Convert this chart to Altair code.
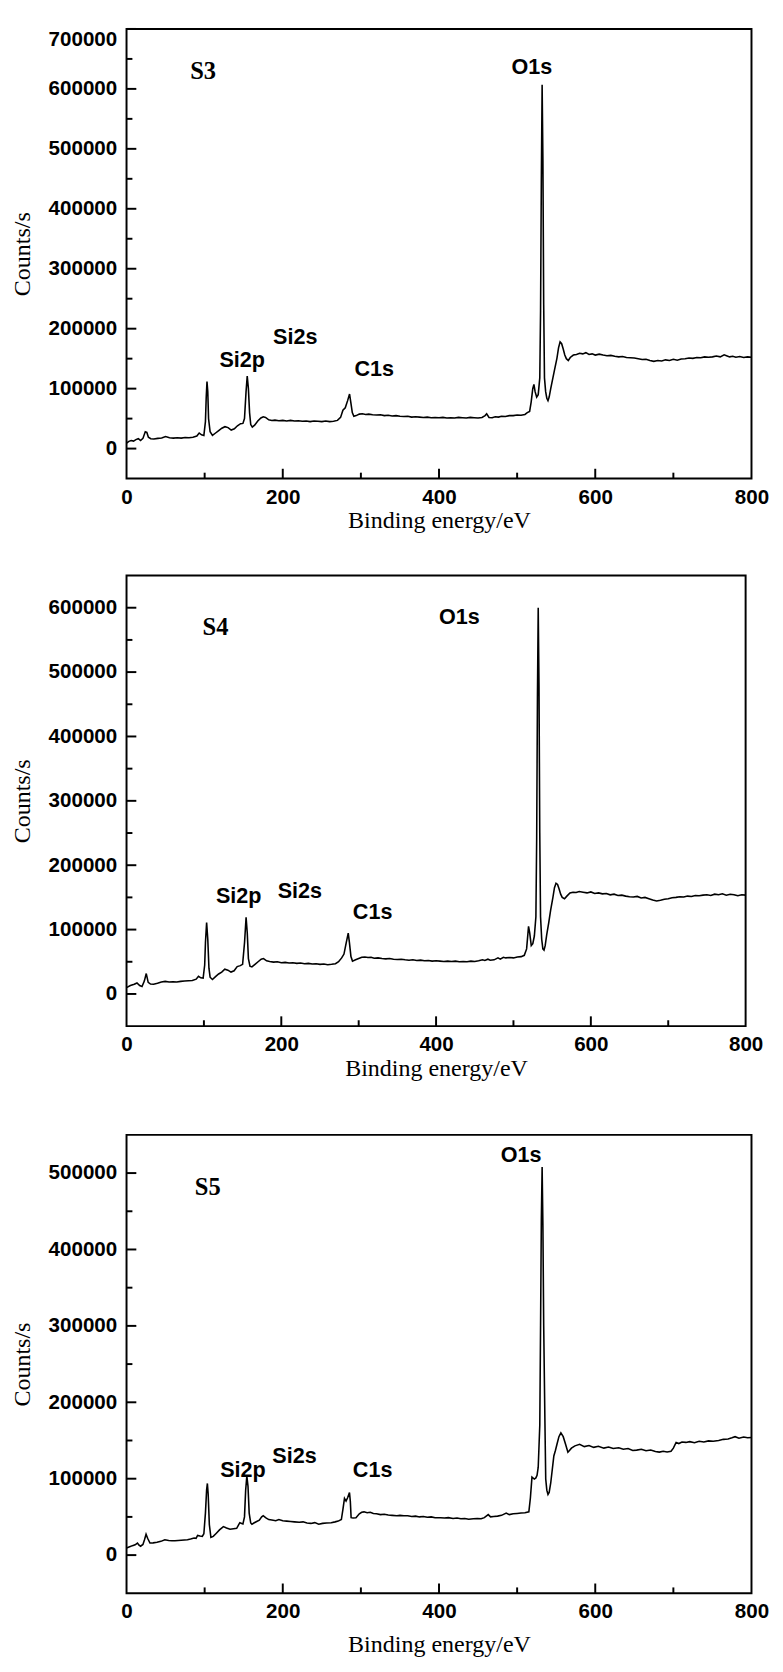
import altair as alt
import pandas as pd

SANS = "Liberation Sans"
SERIF = "Liberation Serif"

# ---------------- data (energy eV, counts/s) ----------------
S3_spectrum = [
    (0, 9000), (3, 12000), (6, 13500), (9, 12500), (12, 15000), (15, 16500), (18, 13500), (21, 17000),
    (24, 28000), (26, 27000), (28, 19000), (31, 16500), (35, 16000), (40, 17000), (45, 17500), (50, 20000),
    (55, 18000), (60, 17500), (65, 18000), (70, 17500), (75, 18500), (80, 18000), (85, 19000), (90, 21000),
    (93, 26000), (96, 23000), (99, 22000), (101, 45000), (102, 85000), (103, 112000), (104, 95000),
    (105, 50000), (107, 28000), (110, 22000), (114, 26000), (118, 30000), (122, 34000), (126, 36500),
    (130, 35000), (134, 31000), (138, 33000), (142, 38000), (146, 41500), (149, 42000), (151, 50000),
    (153, 95000), (154.5, 121000), (156, 100000), (157.5, 60000), (159, 40000), (161, 36000), (164, 39000),
    (168, 46000), (172, 51000), (175, 53000), (178, 52000), (182, 48000), (186, 47000), (190, 47500),
    (195, 46500), (200, 47000), (205, 46000), (210, 47000), (215, 46000), (220, 46500), (225, 45500),
    (230, 46000), (235, 45000), (240, 46000), (245, 45500), (250, 45000), (255, 46000), (260, 45000),
    (265, 45500), (270, 47000), (274, 52000), (277, 64000), (280, 68000), (283, 80000), (285.5, 91000),
    (287, 78000), (289, 60000), (291, 54000), (294, 55000), (298, 57500), (302, 58000), (306, 57000),
    (310, 57500), (315, 56500), (320, 56000), (325, 56500), (330, 55000), (335, 55500), (340, 54500),
    (345, 55000), (350, 54000), (355, 53500), (360, 54000), (365, 52500), (370, 53000), (375, 52500),
    (380, 52000), (385, 52500), (390, 51500), (395, 52000), (400, 51500), (405, 52000), (410, 51000),
    (415, 51500), (420, 51000), (425, 52000), (430, 51500), (435, 51000), (440, 52000), (445, 51500),
    (450, 51000), (455, 52000), (459, 55000), (461, 58000), (464, 52000), (468, 51500), (472, 53000),
    (476, 52500), (480, 54000), (485, 53500), (490, 55000), (495, 55000), (500, 56000), (505, 55500),
    (510, 57000), (513, 60000), (516, 62000), (518, 78000), (520, 100000), (521.5, 107000), (523, 95000),
    (525, 86000), (527, 90000), (529, 118000), (530, 230000), (531, 450000), (532, 607000), (533, 480000),
    (534, 240000), (535, 118000), (536.5, 95000), (538, 84000), (539.5, 80000), (541, 86000), (543, 100000),
    (545, 113000), (548, 132000), (551, 151000), (553, 168000), (555, 178000), (557, 175000), (559, 166000),
    (561, 156000), (563, 150000), (565.5, 147000), (568, 152000), (572, 156000), (576, 157000), (580, 159000),
    (584, 158000), (588, 160000), (592, 157000), (596, 158000), (600, 156000), (605, 157500), (610, 156000),
    (615, 155000), (620, 155500), (625, 154000), (630, 153000), (635, 153500), (640, 152000), (645, 151500),
    (650, 151000), (655, 150000), (660, 148500), (665, 149000), (670, 147000), (675, 145500), (680, 147000),
    (685, 146000), (690, 148000), (695, 147000), (700, 149000), (705, 147500), (710, 149500), (715, 150000),
    (720, 151000), (725, 150500), (730, 152000), (735, 151500), (740, 153000), (745, 152500), (750, 153000),
    (755, 154500), (760, 153000), (765, 156500), (768, 155000), (772, 153000), (776, 154000), (780, 152500),
    (785, 153500), (790, 152000), (795, 153000), (800, 152500),
]

S4_spectrum = [
    (0, 9800), (5, 13000), (10, 15000), (13.5, 17000), (17, 13000), (20, 11500), (23, 20000), (25.5, 31700),
    (28, 18000), (31, 15300), (35, 15000), (40, 16500), (45, 18500), (50, 19500), (55, 18500), (60, 19000),
    (65, 18500), (70, 19500), (75, 20000), (80, 20500), (85, 21000), (90, 23000), (93, 27500), (96, 25000),
    (99, 24500), (101, 45000), (102, 80000), (103.5, 111000), (105, 85000), (106.5, 40000), (108, 26000),
    (111, 22500), (115, 27000), (119, 31000), (123, 34000), (127, 38500), (131, 37000), (135, 34000),
    (139, 36000), (143, 42500), (147, 44000), (150, 46000), (152.5, 80000), (154.5, 119000), (156, 95000),
    (157.5, 55000), (159.5, 43000), (162, 42000), (166, 46000), (170, 50000), (174, 54000), (177, 55000),
    (181, 51500), (185, 50500), (190, 49500), (195, 50000), (200, 48500), (205, 49000), (210, 48000),
    (215, 48500), (220, 47500), (225, 48000), (230, 47000), (235, 47500), (240, 46500), (245, 47000),
    (250, 46000), (255, 46500), (260, 45500), (265, 46000), (270, 47000), (274, 50000), (278, 56000),
    (281, 62000), (284, 80000), (286.5, 94500), (288, 80000), (290, 58000), (292, 51000), (296, 53000),
    (300, 55000), (304, 57000), (308, 57500), (312, 56500), (316, 57000), (320, 55500), (325, 56000),
    (330, 55000), (335, 54500), (340, 55000), (345, 54000), (350, 53500), (355, 54000), (360, 53000),
    (365, 52500), (370, 53000), (375, 52000), (380, 52500), (385, 51500), (390, 52000), (395, 51000),
    (400, 51500), (405, 51000), (410, 50500), (415, 51000), (420, 50500), (425, 51000), (430, 50000),
    (435, 50500), (440, 50000), (445, 51000), (450, 50500), (455, 51500), (460, 53000), (463, 52000),
    (467, 54000), (470, 52500), (475, 53000), (480, 56000), (483, 54000), (487, 57000), (490, 56000),
    (495, 56500), (500, 56000), (505, 57500), (510, 58000), (514, 60000), (517, 70000), (519.5, 105000),
    (521, 95000), (523, 75000), (525, 78000), (527, 90000), (529, 120000), (530, 240000), (531, 460000),
    (532, 600000), (533, 480000), (534, 250000), (535, 120000), (536.5, 85000), (538, 70000), (539.5, 68000),
    (541, 75000), (543, 92000), (545.5, 110000), (548, 130000), (551, 150000), (553, 165000), (555, 172000),
    (557, 170000), (559, 163000), (561, 155000), (563, 150000), (566, 148000), (569, 152000), (573, 157000),
    (577, 158000), (581, 157500), (585, 159000), (590, 158000), (595, 157000), (600, 158500), (605, 156000),
    (610, 157000), (615, 155500), (620, 156000), (625, 154000), (630, 155000), (635, 153000), (640, 153500),
    (645, 152000), (650, 151000), (655, 150500), (660, 151500), (665, 149000), (670, 150000), (675, 148000),
    (680, 146000), (685, 144500), (690, 145500), (695, 147000), (700, 148000), (705, 149500), (710, 150000),
    (715, 151000), (720, 150500), (725, 152000), (730, 151500), (735, 153000), (740, 152500), (745, 153500),
    (750, 154000), (755, 153000), (760, 155000), (765, 154000), (770, 155500), (775, 153500), (780, 155000),
    (785, 154000), (790, 152500), (795, 154000), (800, 153500),
]

S5_spectrum = [
    (0, 9400), (4, 11000), (7.5, 12400), (11, 13500), (14, 15800), (16, 13000), (18, 11600), (21, 14000),
    (23, 20000), (25, 27400), (27, 22000), (30, 15800), (34, 16000), (39, 16700), (44, 18000), (49, 20100),
    (54, 19000), (58, 18800), (62, 18800), (66, 19200), (70, 19500), (74, 19800), (78, 20100), (82, 21000),
    (86.5, 22300), (89, 22000), (91, 25700), (94, 25000), (97, 24400), (99, 28000), (101, 55000),
    (102.5, 85000), (103.5, 93800), (104.5, 80000), (106, 40000), (108, 23100), (111, 24500), (115, 28700),
    (119, 33000), (124, 37300), (128, 35500), (132.5, 33800), (137, 34500), (141, 35100), (145, 42400),
    (149, 40700), (151, 50000), (152.5, 85000), (154, 103600), (155.5, 90000), (157, 55000), (159, 42000),
    (160.5, 40300), (163, 42000), (166, 43700), (170, 45800), (173, 50000), (175, 51500), (178, 49000),
    (182, 46500), (186, 46000), (191, 45000), (195, 46500), (200, 45000), (205, 44500), (210, 44000),
    (215, 43500), (221, 42900), (226, 43500), (231, 42000), (236, 41500), (241, 42500), (246, 40400),
    (251, 41500), (256, 42000), (262, 42400), (267, 43500), (271, 44500), (275, 46500), (277, 60000),
    (279, 74200), (281, 70700), (283, 75000), (285.4, 81800), (286.5, 70000), (287.5, 49000), (290, 48500),
    (293.7, 49000), (298, 54000), (301, 56000), (304, 56600), (308, 55500), (312, 56000), (316, 54500),
    (320, 54000), (325, 53000), (330, 53500), (335, 52500), (340, 52000), (346, 51500), (350, 52000),
    (355, 51500), (360, 51500), (365, 50500), (370, 51000), (375, 50000), (380, 50500), (385, 49500),
    (390, 50000), (395, 49000), (402, 49000), (407, 48500), (412, 49000), (418, 48000), (423, 48500),
    (428, 47500), (433, 48000), (438, 47000), (444, 47500), (449, 48000), (454, 47500), (458, 49000),
    (463, 53000), (466, 50000), (470, 50500), (475, 51000), (480, 52000), (486, 55000), (490, 53000),
    (495, 54000), (500, 54500), (505, 55000), (510, 55500), (515, 56600), (517, 75000), (519, 102000),
    (522, 99500), (524, 101000), (525.5, 104500), (527, 115000), (529, 170000), (530, 300000), (531, 440000),
    (532, 508000), (533, 430000), (534, 301000), (535.5, 180000), (536.6, 99500), (538, 85000),
    (539.5, 79300), (541, 82000), (543, 94400), (545, 112000), (547, 129800), (549, 137000), (551, 145000),
    (553.5, 155000), (556, 160000), (559, 155000), (562, 145000), (565, 134800), (567, 137000),
    (569.5, 140000), (574, 143000), (580, 145000), (586, 142000), (592, 143500), (598, 141000), (604, 142500),
    (611, 140000), (617, 141500), (623, 139500), (630, 140500), (636, 138500), (642, 139500), (648, 137000),
    (653, 137400), (659, 138500), (665, 136500), (671, 137500), (677, 135500), (682, 134800), (687, 136000),
    (692, 135000), (697, 136000), (700, 140000), (703.5, 147500), (707, 146000), (711, 148000), (716, 147500),
    (721, 148500), (727, 147000), (733, 149000), (739, 148000), (745, 149500), (751, 149000), (758, 150000),
    (764, 151500), (770, 152000), (775, 153500), (779, 155000), (784, 153000), (790, 154500), (795, 153500),
    (800, 154000),
]

# peak annotations: label, energy, counts
PEAK_LABELS = ["Si2p", "Si2s", "C1s", "O1s"]
S3_peak_energy = [148, 216, 317, 519]
S3_peak_counts = [148000, 186000, 132000, 637000]
S4_peak_energy = [145, 224, 318, 430]
S4_peak_counts = [152000, 160000, 127000, 586000]
S5_peak_energy = [149, 215, 315, 505]
S5_peak_counts = [111000, 130000, 111000, 523000]

SAMPLES = ["S3", "S4", "S5"]
SAMPLE_energy = [98, 115, 104]
SAMPLE_counts = [629000, 570000, 481000]

Y_MAX = [700000, 650000, 550000]
Y_MIN = -50000
Y_MAJOR = [0, 100000, 200000, 300000, 400000, 500000, 600000, 700000]
Y_MINOR = [50000, 150000, 250000, 350000, 450000, 550000, 650000]
X_MAJOR = [0, 200, 400, 600, 800]
X_MAJOR_INNER = [200, 400, 600]
X_MINOR = [100, 300, 500, 700]


def panel(spectrum, ymax, width, height, sample, s_e, s_c, pe, pc, flush, xtitle, xtitle_pad, xtitle_lh):
    df = pd.DataFrame(spectrum, columns=["energy", "counts"])
    xs = alt.Scale(domain=[0, 800], nice=False, zero=False)
    ys = alt.Scale(domain=[Y_MIN, ymax], nice=False, zero=False)
    ymaj = [v for v in Y_MAJOR if v <= ymax]
    ymin = [v for v in Y_MINOR if v < ymax]

    xaxis = alt.Axis(values=X_MAJOR, title=xtitle, labelFlush=False, labelPadding=8,
                     titlePadding=xtitle_pad, titleLineHeight=xtitle_lh)
    yaxis = alt.Axis(values=ymaj, format="d", title="Counts/s", labelFlush=flush,
                     labelPadding=10, titlePadding=14)
    X = alt.X("energy:Q", scale=xs, axis=xaxis)
    Y = alt.Y("counts:Q", scale=ys, axis=yaxis)

    line = alt.Chart(df).mark_line(color="black", strokeWidth=1.6).encode(x=X, y=Y)
    rule = dict(color="black", strokeWidth=2)
    ytick_major = alt.Chart(pd.DataFrame({"counts": ymaj})).mark_rule(**rule).encode(
        y=Y, x=alt.value(0), x2=alt.value(10))
    ytick_minor = alt.Chart(pd.DataFrame({"counts": ymin})).mark_rule(**rule).encode(
        y=Y, x=alt.value(0), x2=alt.value(6))
    xtick_major = alt.Chart(pd.DataFrame({"energy": X_MAJOR_INNER})).mark_rule(**rule).encode(
        x=X, y=alt.value(height), y2=alt.value(height - 10))
    xtick_minor = alt.Chart(pd.DataFrame({"energy": X_MINOR})).mark_rule(**rule).encode(
        x=X, y=alt.value(height), y2=alt.value(height - 6))

    peaks = alt.Chart(pd.DataFrame({"label": PEAK_LABELS, "energy": pe, "counts": pc})).mark_text(
        font=SANS, fontSize=22, fontWeight="bold", color="black", align="center", baseline="middle").encode(
        x=X, y=Y, text="label:N")
    name = alt.Chart(pd.DataFrame({"label": [sample], "energy": [s_e], "counts": [s_c]})).mark_text(
        font=SERIF, fontSize=25, fontWeight="bold", color="black", align="center", baseline="middle").encode(
        x=X, y=Y, text="label:N")

    return alt.layer(line, ytick_major, ytick_minor, xtick_major, xtick_minor, peaks, name).properties(
        width=width, height=height)


p1 = panel(S3_spectrum, Y_MAX[0], 638, 459, SAMPLES[0], SAMPLE_energy[0], SAMPLE_counts[0],
           S3_peak_energy, S3_peak_counts, True, "Binding energy/eV", 2, 24)
p2 = panel(S4_spectrum, Y_MAX[1], 632, 460, SAMPLES[1], SAMPLE_energy[1], SAMPLE_counts[1],
           S4_peak_energy, S4_peak_counts, False, ["Binding energy/eV", " "], 2, 12)
p3 = panel(S5_spectrum, Y_MAX[2], 638, 468, SAMPLES[2], SAMPLE_energy[2], SAMPLE_counts[2],
           S5_peak_energy, S5_peak_counts, False, "Binding energy/eV", 11, 24)

chart = alt.vconcat(p1, p2, p3, spacing=42).properties(
    padding={"left": 0, "top": 2, "right": 5, "bottom": 0}
).configure_view(
    stroke="black", strokeWidth=2
).configure_axis(
    grid=False, domain=False, ticks=False,
    labelFont=SANS, labelFontSize=21, labelFontWeight="bold", labelColor="black",
    titleFont=SERIF, titleFontSize=24.5, titleFontWeight="normal", titleColor="black",
)

chart.save("out.html", embed_options={"renderer": "svg", "actions": False})
